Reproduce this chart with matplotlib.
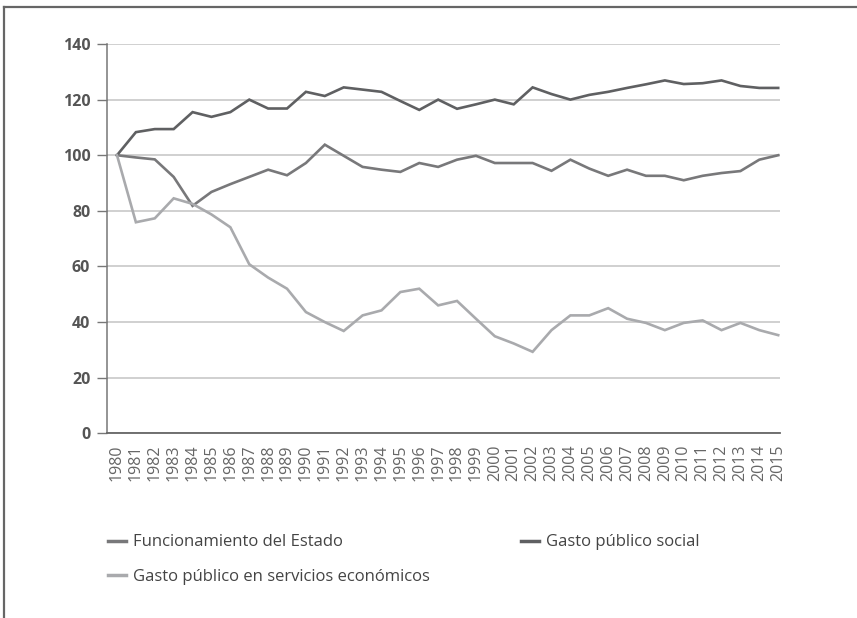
import matplotlib
matplotlib.use("Agg")
import matplotlib.pyplot as plt
from matplotlib.lines import Line2D

years = list(range(1980, 2016))

funcionamiento = [100, 99.2, 98.5, 92.2, 81.8, 86.8, 89.6, 92.2, 94.8, 92.8, 97.2, 103.8,
                  99.8, 95.8, 94.8, 94.0, 97.2, 95.8, 98.4, 99.8, 97.2, 97.2, 97.2, 94.4,
                  98.4, 95.2, 92.6, 94.8, 92.6, 92.6, 91.0, 92.6, 93.6, 94.3, 98.4, 100.0]

social = [100, 108.3, 109.4, 109.4, 115.5, 113.8, 115.5, 120.0, 116.8, 116.8, 122.8, 121.3,
          124.4, 123.6, 122.8, 119.5, 116.3, 120.0, 116.7, 118.3, 120.0, 118.3, 124.4, 122.0,
          120.0, 121.7, 122.8, 124.2, 125.5, 126.9, 125.6, 125.9, 126.9, 124.9, 124.2, 124.2]

economicos = [100, 75.9, 77.3, 84.5, 82.5, 78.7, 74.1, 60.8, 56.0, 52.0, 43.6, 40.0,
              36.8, 42.4, 44.2, 50.8, 52.0, 46.0, 47.6, 41.2, 34.9, 32.3, 29.3, 37.1,
              42.4, 42.4, 45.0, 41.2, 39.7, 37.1, 39.7, 40.6, 37.1, 39.7, 37.1, 35.3]

labels = ["Funcionamiento del Estado", "Gasto público social",
          "Gasto público en servicios económicos"]
y_ticks = [0, 20, 40, 60, 80, 100, 120, 140]

plt.rcParams['font.family'] = ['Open Sans', 'DejaVu Sans']

fig = plt.figure(figsize=(8.57, 6.18), dpi=100)
ax = fig.add_axes([107/857, 1 - 433.3/618, (780 - 107)/857, (433.3 - 44)/618])

c_func = "#78787a"
c_soc = "#5f6062"
c_eco = "#a9aaad"

l1, = ax.plot(years, funcionamiento, color=c_func, lw=1.9, solid_joinstyle='miter', zorder=3)
l2, = ax.plot(years, social, color=c_soc, lw=1.9, solid_joinstyle='miter', zorder=3)
l3, = ax.plot(years, economicos, color=c_eco, lw=1.9, solid_joinstyle='miter', zorder=3)

ax.set_ylim(0, 140)
ax.set_xlim(1980 - 10/18.89, 2015 + 1.8/18.89)
ax.set_yticks(y_ticks)
ax.set_yticklabels([str(v) for v in y_ticks], fontsize=11.5, fontweight='bold', color='#555555')
ax.set_xticks(years)
ax.set_xticklabels([str(y) for y in years], rotation=90, fontsize=11.5, color='#666666')
ax.tick_params(axis='x', length=0, pad=8)
ax.tick_params(axis='y', length=7, width=1, color='#777777', pad=5)

ax.grid(axis='y', color='#c4c4c4', lw=1.1)
ax.set_axisbelow(True)
for s in ['top', 'right']:
    ax.spines[s].set_visible(False)
ax.spines['left'].set_color('#777777')
ax.spines['bottom'].set_color('#666666')
ax.spines['left'].set_linewidth(1.1)
ax.spines['bottom'].set_linewidth(1.3)
ax.spines['left'].set_bounds(0, 140)

leg = fig.legend([l1, l3, l2], [labels[0], labels[2], labels[1]], loc='upper left', ncol=2,
                 bbox_to_anchor=(93/857, 1 - 519.5/618), frameon=False,
                 fontsize=12, handlelength=1.08, handletextpad=0.42,
                 columnspacing=5.45, labelspacing=1.1, labelcolor='#444444')
for h in leg.legend_handles:
    h.set_linewidth(2.5)

# outer frame (top and left edges)
fig.add_artist(Line2D([4/857, 1.0], [1 - 7/618, 1 - 7/618], transform=fig.transFigure,
                      color='#666666', lw=1.6))
fig.add_artist(Line2D([4/857, 4/857], [0, 1 - 7/618], transform=fig.transFigure,
                      color='#666666', lw=1.6))

fig.savefig("out.png", dpi=100)
